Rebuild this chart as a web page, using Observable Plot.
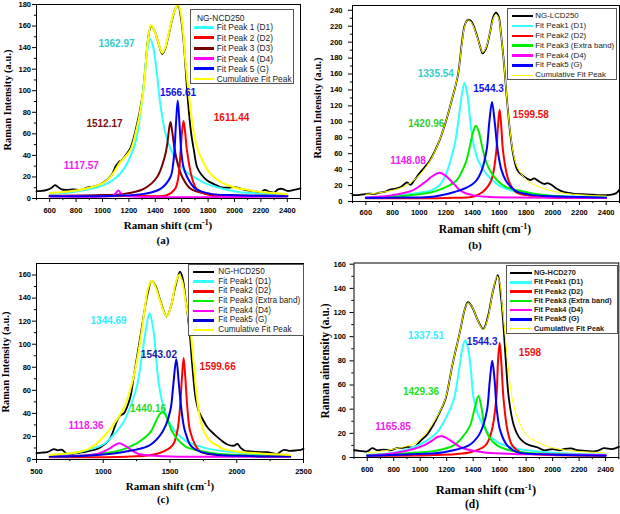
<!DOCTYPE html>
<html><head><meta charset="utf-8">
<script src="https://cdn.jsdelivr.net/npm/d3@7"></script>
<script src="https://cdn.jsdelivr.net/npm/@observablehq/plot@0.6"></script>
<style>
body{margin:0;background:#fff;}
#root{position:relative;width:620px;height:514px;overflow:hidden;font-family:"Liberation Sans",Arial,sans-serif;}
.panel{position:absolute;width:310px;height:257px;}
.lbl{position:absolute;font-family:"Liberation Serif","Times New Roman",serif;font-weight:bold;white-space:nowrap;color:#000;transform:translate(-50%,-50%);line-height:1;}
.ylbl{transform:translate(-50%,-50%) rotate(-90deg);}
.lbl sup{font-size:0.7em;position:relative;top:-0.5em;vertical-align:baseline;line-height:0;}
.legend{position:absolute;background:#fff;border:1px solid #555;box-sizing:border-box;}
.legend .sw{position:absolute;}
.legend .tx{position:absolute;white-space:nowrap;color:#222;line-height:1;transform:translateY(-50%);}
</style>
</head><body>
<div id="root"></div>
<script>
// ---------------- DATA ----------------
// Panel (a) NG-NCD250
const aRaw=[[500,6.8],[540,7],[580,8],[615,10],[640,12.5],[660,11],[690,8.5],[730,8],[780,8.5],[830,8],[880,10],[930,11],[980,13],[1030,17],[1070,22],[1100,30],[1125,34],[1150,36],[1180,41],[1212,47],[1250,63],[1300,93],[1325,122],[1345,148],[1368,160],[1390,157],[1420,146],[1452,134],[1475,139],[1500,151],[1530,167],[1555,177],[1573,179],[1595,167],[1615,145],[1630,120],[1647,91],[1670,62],[1692,45],[1717,29],[1750,22],[1793,16.7],[1850,13],[1894,10.5],[1950,10],[2000,10.5],[2050,9],[2100,7.5],[2150,6.5],[2200,6],[2230,8],[2260,6.5],[2300,5.5],[2330,8.5],[2360,9],[2400,7],[2450,8],[2500,9.5]];
const aD1=[[600,4.5],[800,6.5],[1000,12],[1100,19],[1165,28],[1215,40],[1250,52],[1283,75],[1313,105],[1340,138],[1362,148],[1385,140],[1410,118],[1434,91],[1455,74],[1477,60],[1520,45],[1566,35],[1620,26],[1692,20],[1780,14],[1869,10.5],[2033,6],[2200,4.5],[2400,3.5]];
const aD2=[[600,2],[1300,2.3],[1487,3],[1550,9],[1575,20],[1592,44.5],[1604,64],[1614,72],[1624,64],[1640,44.5],[1676,20],[1713,9],[1818,3],[2100,2.3],[2400,2]];
const aD3=[[600,2.5],[1000,3.2],[1161,4.3],[1313,9],[1414,20],[1470,38],[1490,50],[1503,63],[1515,71],[1527,63],[1545,47],[1570,32],[1604,20],[1667,9],[1793,4.3],[2000,3],[2400,2.5]];
const aD4=[[600,2],[1060,2.3],[1090,3.5],[1105,5.5],[1120,7.5],[1135,5.5],[1150,3.5],[1180,2.3],[2400,2]];
const aG=[[600,2],[1100,2.5],[1313,4.3],[1439,9],[1515,20],[1535,32],[1545,44.5],[1557,70],[1570,91],[1583,70],[1596,44.5],[1612,30],[1641,20],[1704,9],[1818,4.3],[2000,3],[2400,2]];
const aCum=[[600,5],[700,6],[800,7.5],[900,10],[1000,14],[1060,20],[1100,27],[1130,33],[1160,37],[1212,45],[1250,60],[1300,91],[1325,120],[1345,148],[1368,161],[1390,157],[1420,146],[1452,135],[1475,140],[1500,152],[1530,168],[1555,177],[1573,180],[1590,174],[1610,155],[1630,125],[1659,91],[1690,62],[1722,45],[1770,32],[1818,23],[1900,15],[1995,10.5],[2100,8],[2200,6],[2300,5],[2400,4]];
const aPeakText=["1362.97","1566.61","1512.17","1611.44","1117.57"];
const aLegendNames=["NG-NCD250","Fit Peak 1 (D1)","Fit Peak 2 (D2)","Fit Peak 3 (D3)","Fit Peak 4 (D4)","Fit Peak 5 (G)","Cumulative Fit Peak"];
const aXTicks=[600,800,1000,1200,1400,1600,1800,2000,2200,2400];
const aYTicks=[0,20,40,60,80,100,120,140,160,180];

// Panel (b) NG-LCD250
const bRaw=[[500,8],[540,8],[580,9],[620,10],[660,9.5],[700,11],[740,12],[780,15],[820,16],[860,18],[890,22],[910,24],[935,21],[960,26],[1000,35],[1040,43],[1077,51],[1140,72],[1195,98],[1240,125],[1289,158],[1320,200],[1340,221],[1363,228],[1390,226],[1425,212],[1455,195],[1475,186],[1500,192],[1530,212],[1555,232],[1575,237],[1595,232],[1612,211],[1637,169],[1657,127],[1682,85],[1707,56],[1737,39],[1786,31],[1830,27],[1861,29],[1890,26],[1935,22],[1960,23],[1990,21],[2030,16],[2080,12],[2150,10],[2250,9],[2300,8.5],[2350,8],[2400,8],[2450,9],[2480,11],[2500,15]];
const bD1=[[600,5],[800,7],[1000,11],[1090,14],[1150,20],[1202,35],[1240,55],[1272,77],[1300,110],[1320,135],[1339,149],[1360,135],[1380,105],[1401,77],[1440,52],[1500,35],[1560,25],[1600,20],[1687,14],[1800,10],[2000,7],[2200,6],[2400,5]];
const bD2=[[600,4],[1200,4.5],[1400,6],[1475,12],[1538,26],[1575,60],[1590,95],[1602,115],[1614,95],[1630,60],[1670,26],[1724,12],[1800,8],[2000,5],[2400,4.5]];
const bExtra=[[600,4.5],[800,6],[1000,9],[1140,14],[1277,26],[1320,38],[1351,50],[1380,70],[1405,88],[1423,95],[1445,88],[1470,70],[1500,50],[1540,36],[1587,26],[1650,18],[1736,14],[1850,10],[2000,7],[2200,5.5],[2400,5]];
const bD4=[[600,5],[800,8],[950,14],[1040,24],[1100,32],[1152,36],[1200,32],[1260,22],[1314,13],[1400,8],[1500,6],[1700,5],[2400,4.5]];
const bG=[[600,4.5],[900,5],[1100,6],[1264,12],[1350,17],[1426,26],[1470,40],[1505,65],[1525,100],[1545,125],[1565,100],[1587,65],[1615,40],[1649,26],[1700,16],[1736,12],[1850,8],[2000,6.5],[2400,5]];
const bCum=[[600,9],[700,11],[800,14],[900,20],[1000,33],[1077,50],[1140,72],[1195,98],[1240,125],[1289,158],[1320,198],[1340,220],[1363,228],[1390,225],[1425,211],[1455,195],[1475,187],[1500,193],[1530,212],[1555,230],[1575,235],[1595,230],[1612,211],[1637,169],[1657,127],[1682,86],[1707,58],[1737,42],[1786,30],[1850,22],[1935,16],[2000,13],[2100,10],[2200,8.5],[2300,7.5],[2400,7]];
const bPeakText=["1335.54","1544.3","1599.58","1420.96","1148.08"];
const bLegendNames=["NG-LCD250","Fit Peak1 (D1)","Fit Peak2 (D2)","Fit Peak3 (Extra band)","Fit Peak4 (D4)","Fit Peak5 (G)","Cumulative Fit Peak"];
const bXTicks=[600,800,1000,1200,1400,1600,1800,2000,2200,2400];
const bYTicks=[0,20,40,60,80,100,120,140,160,180,200,220,240];

// Panel (c) NG-HCD250
const cRaw=[[500,5.5],[540,6],[580,6.3],[610,8],[630,9],[660,8],[692,8.4],[715,6],[730,4.9],[770,5],[805,5.5],[855,6.3],[905,7.8],[950,9],[980,10.7],[1020,14],[1055,19],[1085,28],[1105,34],[1125,38],[1155,40],[1180,46],[1205,55],[1230,73],[1280,108],[1310,130],[1335,145],[1362,155],[1390,151],[1430,137],[1475,124],[1505,132],[1540,150],[1575,163],[1595,157],[1617,139],[1647,110],[1667,81.5],[1692,53],[1715,42],[1740,36],[1780,28],[1830,22],[1880,17],[1930,13],[1980,12],[2005,13.5],[2030,10],[2055,7.8],[2100,7],[2150,6.5],[2230,6.3],[2270,5.5],[2305,4.9],[2330,7],[2355,8.4],[2400,7.5],[2450,8],[2480,8.4],[2500,9.2]];
const cD1=[[600,3.5],[800,6],[905,9],[1000,13],[1067,20],[1150,32],[1210,48],[1255,65],[1290,90],[1320,113],[1347,127],[1375,113],[1395,90],[1417,65],[1460,42],[1500,31],[1542,24],[1620,16],[1705,12],[1800,9],[2000,6],[2200,4.5],[2400,3.5]];
const cD2=[[600,2],[1200,2.5],[1405,5],[1517,12],[1555,25],[1575,45],[1590,72],[1602,88],[1614,72],[1630,45],[1650,25],[1692,12],[1730,6.5],[1850,4],[2100,3],[2400,2.5]];
const cExtra=[[600,2.5],[900,4],[1130,8],[1250,14],[1300,18],[1355,24],[1390,32],[1420,39],[1443,41],[1465,39],[1490,32],[1517,24],[1560,17],[1620,11],[1705,8],[1850,5],[2000,4],[2400,3]];
const cD4=[[600,2.5],[850,3.5],[960,5],[1040,9],[1085,12.5],[1120,14],[1155,12.5],[1200,9],[1260,5],[1350,3.5],[1500,2.7],[2400,2.5]];
const cG=[[600,2.5],[900,3.5],[1155,6.6],[1343,12],[1420,20],[1470,30],[1505,44],[1525,65],[1547,87],[1567,65],[1585,44],[1605,28],[1625,20],[1655,12],[1730,6.6],[1850,4],[2100,3],[2400,2.5]];
const cCum=[[600,4],[700,5],[800,6],[905,10],[1005,20],[1105,35],[1167,48],[1230,73],[1280,105],[1310,130],[1335,148],[1362,155],[1390,150],[1430,136],[1475,124],[1510,134],[1540,152],[1567,160],[1590,155],[1620,135],[1655,110],[1680,80],[1700,55],[1725,36],[1755,24],[1800,16],[1855,12],[1905,9],[2000,7],[2200,5],[2400,4]];
const cPeakText=["1344.69","1543.02","1599.66","1440.16","1118.36"];
const cLegendNames=["NG-HCD250","Fit Peak1 (D1)","Fit Peak2 (D2)","Fit Peak3 (Extra band)","Fit Peak4 (D4)","Fit Peak5 (G)","Cumulative Fit Peak"];
const cXTicks=[500,1000,1500,2000,2500];
const cYTicks=[0,20,40,60,80,100,120,140,160];

// Panel (d) NG-HCD270
const dRaw=[[500,6],[540,5.5],[600,5],[638,7.7],[676,6],[720,6.5],[776,6],[827,7.7],[870,8],[902,8.8],[952,8.3],[1003,13.8],[1053,19],[1103,27.6],[1141,36],[1191,48.5],[1242,76],[1300,104],[1335,122],[1360,128.6],[1390,125],[1430,115],[1476,106.5],[1510,116],[1550,138],[1586,151],[1612,131],[1632,104],[1649,76],[1670,48.5],[1707,26.5],[1745,17],[1783,12.7],[1830,10],[1883,8.5],[1934,6],[2000,7],[2050,6],[2085,6.9],[2140,7.5],[2186,6],[2250,5.5],[2312,5],[2350,6],[2387,7.7],[2450,7],[2500,8.8]];
const dD1=[[600,2],[800,4],[952,8.5],[1050,14],[1128,21],[1200,34],[1254,48],[1290,70],[1318,90],[1340,97],[1362,90],[1385,70],[1405,48],[1450,32],[1506,21],[1580,13],[1682,8.5],[1800,6],[2000,4],[2200,3],[2400,2.5]];
const dD2=[[600,1.5],[1100,2],[1380,4.4],[1493,10],[1540,22],[1574,48],[1588,80],[1600,95],[1612,80],[1630,48],[1660,22],[1695,10],[1758,4.4],[1900,2.5],[2400,1.5]];
const dExtra=[[600,2],[900,3.5],[1128,5.8],[1254,10],[1320,17],[1375,26],[1410,40],[1440,51],[1465,40],[1486,26],[1520,17],[1581,10],[1682,5.8],[1850,3.5],[2100,2.5],[2400,2]];
const dD4=[[600,1.5],[800,3.5],[950,7],[1028,10],[1090,14],[1130,17],[1166,17.6],[1200,16],[1250,12.5],[1305,8.5],[1380,6],[1500,4],[1700,3],[2000,2.5],[2400,2]];
const dG=[[600,1.5],[900,2.5],[1179,4.4],[1367,10],[1440,18],[1480,28],[1506,40],[1526,64],[1544,80],[1562,64],[1578,40],[1605,22],[1657,10],[1732,4.4],[1850,3],[2100,2],[2400,1.5]];
const dCum=[[600,4],[700,5],[800,7],[900,9.5],[965,12],[1040,20],[1128,34],[1191,49],[1242,76],[1300,104],[1335,122],[1360,128],[1390,125],[1430,115],[1476,106],[1510,115],[1550,138],[1580,150],[1600,145],[1620,125],[1639,104],[1665,75],[1695,48.5],[1725,36],[1758,26.5],[1800,19],[1883,12.7],[2000,8],[2200,5],[2400,4]];
const dPeakText=["1337.51","1544.3","1598","1429.36","1165.85"];
const dLegendNames=["NG-HCD270","Fit Peak1 (D1)","Fit Peak2 (D2)","Fit Peak3 (Extra band)","Fit Peak4 (D4)","Fit Peak5 (G)","Cumulative Fit Peak"];
const dXTicks=[600,800,1000,1200,1400,1600,1800,2000,2200,2400];
const dYTicks=[0,20,40,60,80,100,120,140,160];

// ---------------- STYLE / LAYOUT ----------------
const C={raw:"#000000",d1:"#33ffff",d2:"#ff0000",d3:"#7a0000",ex:"#00ee00",d4:"#ff00ff",g:"#0000ff",cum:"#ffff00"};
const range=(a,b,s)=>{const r=[];for(let v=a;v<=b+1e-9;v+=s)r.push(v);return r;};

const panels=[
 {left:0,top:0,m:[4,10,59,36],yMax:180,xTicks:aXTicks,yTicks:aYTicks,xMinor:range(500,2500,100),yMinor:range(10,170,20),xPad:5.5,yPad:1.5,
  series:[[aRaw,C.raw,1.8],[aD1,C.d1,2],[aD3,C.d3,2],[aD2,C.d2,2],[aD4,C.d4,2],[aG,C.g,2],[aCum,C.cum,2]],
  peaks:aPeakText, peakAt:[[1106,144],[1572,98],[1015,69],[1978,75],[840,30]],
  peakCol:["#33cccc","#1010ee","#7a1010","#ee1111","#ee22ee"],
  legend:{names:aLegendNames,cols:[null,C.d1,C.d2,C.d3,C.d4,C.g,C.cum],lw:[0,2.5,2.5,2.5,2.5,2.5,2.5],box:[190,9.3,104,75],rows:[18.3,27.3,37.7,48.3,58.7,68.7,79],sx:[194.3,214],tx:216.7,fs:8.4,bold:false,titleX:197},
  xl:[168,225,11],yl:[8,100,10.5,"Raman Intensity (a.u.)"],tag:["(a)",163,240,11]},
 {left:310,top:0,m:[5,1,56,42],yMax:246,xTicks:bXTicks,yTicks:bYTicks,xMinor:range(500,2500,100),yMinor:range(10,230,20),xPad:4.5,yPad:6,
  series:[[bRaw,C.raw,1.8],[bD1,C.d1,2],[bD2,C.d2,2],[bExtra,C.ex,2],[bD4,C.d4,2],[bG,C.g,2],[bCum,C.cum,1]],
  peaks:bPeakText, peakAt:[[1124,160],[1519,141],[1836,109],[1053,98],[916,51.5]],
  peakCol:["#33cccc","#1010ee","#ee1111","#33cc33","#ee22ee"],
  legend:{names:bLegendNames,cols:[C.raw,C.d1,C.d2,C.ex,C.d4,C.g,C.cum],lw:[2.5,2.5,2.5,2.5,2.5,2.5,1],box:[507.3,8.3,110,72],rows:range(0,6,1).map(i=>16+9.9*i),sx:[511.7,532.7],tx:535.3,fs:7.9,bold:false},
  xl:[485,230,11.5],yl:[317.5,107.5,10.5,"Raman Intensity (a.u.)"],tag:["(b)",475,245,11]},
 {left:0,top:257,m:[6,7,55,36],yMax:170,xTicks:cXTicks,yTicks:cYTicks,xMinor:range(750,2250,500),yMinor:range(10,150,20),xPad:5,yPad:1.5,
  series:[[cRaw,C.raw,1.8],[cD1,C.d1,2],[cD2,C.d2,2],[cExtra,C.ex,2],[cD4,C.d4,2],[cG,"#0000dd",2],[cCum,C.cum,2]],
  peaks:cPeakText, peakAt:[[1040,120.5],[1417,91],[1857,80.7],[1336,44.4],[871,28.8]],
  peakCol:["#33eeff","#1a1aa0","#ee1111","#22dd22","#ee22ee"],
  legend:{names:cLegendNames,cols:[C.raw,C.d1,C.d2,C.ex,C.d4,"#0000dd",C.cum],lw:[2.5,2.5,2.5,2.5,2.5,2.5,2.5],box:[188.3,263.7,116,72.3],rows:range(0,6,1).map(i=>272+9.7*i),sx:[193.3,214.3],tx:218.3,fs:8.2,bold:false},
  xl:[170,486,11],yl:[6,362,10.5,"Raman Intensity (a.u.)"],tag:["(c)",163,499,11]},
 {left:310,top:257,m:[5.5,1.7,57,43.5],yMax:161,xTicks:dXTicks,yTicks:dYTicks,xMinor:range(500,2500,100),yMinor:range(10,150,20),xPad:5.5,yPad:4,
  series:[[dRaw,C.raw,1.8],[dD1,C.d1,2],[dD2,C.d2,2],[dExtra,C.ex,2],[dD4,C.d4,2],[dG,C.g,2],[dCum,C.cum,1]],
  peaks:dPeakText, peakAt:[[1044,101],[1468,96],[1829,87],[1006,54.6],[795,25.7]],
  peakCol:["#33eeff","#1a1acc","#ee1111","#22dd22","#ee22ee"],
  legend:{names:dLegendNames,cols:[C.raw,C.d1,C.d2,C.ex,C.d4,C.g,C.cum],lw:[2.5,2.5,2.5,2.5,2.5,2.5,1],box:[506,265.3,112.3,69],rows:range(0,6,1).map(i=>273+9.3*i),sx:[510,531.7],tx:534,fs:7.4,bold:true},
  xl:[486,490,12.5],yl:[326,361,11.5,"Raman aintensity (a.u.)"],tag:["(d)",472,505,11.5]}
];

const root=document.getElementById("root");
const W=310,H=257;
for(const p of panels){
  const [mt,mr,mb,ml]=p.m;
  const pyu=(H-mt-mb)/p.yMax, pxu=(W-ml-mr)/2000, tl=2.2;
  const xMinor=p.xMinor.filter(v=>!p.xTicks.includes(v));
  const marks=[
    Plot.ruleX(xMinor,{x:d=>d,y1:0,y2:-tl/pyu,stroke:"#000",strokeWidth:1}),
    Plot.ruleY(p.yMinor,{y:d=>d,x1:500,x2:500-tl/pxu,stroke:"#000",strokeWidth:1})
  ];
  for(const [data,col,w] of p.series){
    marks.push(Plot.line(data,{x:d=>d[0],y:d=>d[1],stroke:col,strokeWidth:w,curve:"catmull-rom"}));
  }
  p.peaks.forEach((t,i)=>{
    marks.push(Plot.text([t],{x:()=>p.peakAt[i][0],y:()=>p.peakAt[i][1],text:d=>d,fill:p.peakCol[i],fontSize:10,fontWeight:"bold",fontFamily:"Liberation Sans, Arial, sans-serif"}));
  });
  marks.push(Plot.frame({stroke:"#000",strokeWidth:1}));
  const svg=Plot.plot({
    width:W,height:H,marginTop:mt,marginRight:mr,marginBottom:mb,marginLeft:ml,
    style:{background:"transparent",overflow:"visible",fontFamily:"Liberation Sans, Arial, sans-serif",fontSize:"7.5px",fontWeight:"bold",color:"#000"},
    x:{domain:[500,2500],ticks:p.xTicks,tickSize:4,tickPadding:p.xPad,tickFormat:d=>String(d),label:null},
    y:{domain:[0,p.yMax],ticks:p.yTicks,tickSize:4,tickPadding:p.yPad,tickFormat:d=>String(d),label:null},
    marks
  });
  const wrap=document.createElement("div");
  wrap.className="panel";wrap.style.left=p.left+"px";wrap.style.top=p.top+"px";
  wrap.appendChild(svg);root.appendChild(wrap);
}
// labels and legends (HTML overlay)
for(const p of panels){
  const xl=document.createElement("div");xl.className="lbl";
  xl.style.left=p.xl[0]+"px";xl.style.top=p.xl[1]+"px";xl.style.fontSize=p.xl[2]+"px";
  xl.innerHTML="Raman shift (cm<sup>-1</sup>)";root.appendChild(xl);
  const yl=document.createElement("div");yl.className="lbl ylbl";
  yl.style.left=p.yl[0]+"px";yl.style.top=p.yl[1]+"px";yl.style.fontSize=p.yl[2]+"px";
  yl.textContent=p.yl[3];root.appendChild(yl);
  const tg=document.createElement("div");tg.className="lbl";
  tg.style.left=p.tag[1]+"px";tg.style.top=p.tag[2]+"px";tg.style.fontSize=p.tag[3]+"px";
  tg.textContent=p.tag[0];root.appendChild(tg);
  const L=p.legend,[bx,by,bw,bh]=L.box;
  const box=document.createElement("div");box.className="legend";
  box.style.left=bx+"px";box.style.top=by+"px";box.style.width=bw+"px";box.style.height=bh+"px";
  L.names.forEach((name,i)=>{
    const ry=L.rows[i]-by-1;
    if(L.cols[i]){
      const sw=document.createElement("div");sw.className="sw";
      sw.style.left=(L.sx[0]-bx-1)+"px";sw.style.width=(L.sx[1]-L.sx[0])+"px";
      sw.style.top=(ry-L.lw[i]/2)+"px";sw.style.height=L.lw[i]+"px";sw.style.background=L.cols[i];
      box.appendChild(sw);
    }
    const tx=document.createElement("div");tx.className="tx";
    tx.style.left=((L.cols[i]?L.tx:L.titleX)-bx-1)+"px";tx.style.top=ry+"px";
    tx.style.fontSize=L.fs+"px";if(L.bold)tx.style.fontWeight="bold";
    tx.textContent=name;box.appendChild(tx);
  });
  root.appendChild(box);
}
</script>
</body></html>
